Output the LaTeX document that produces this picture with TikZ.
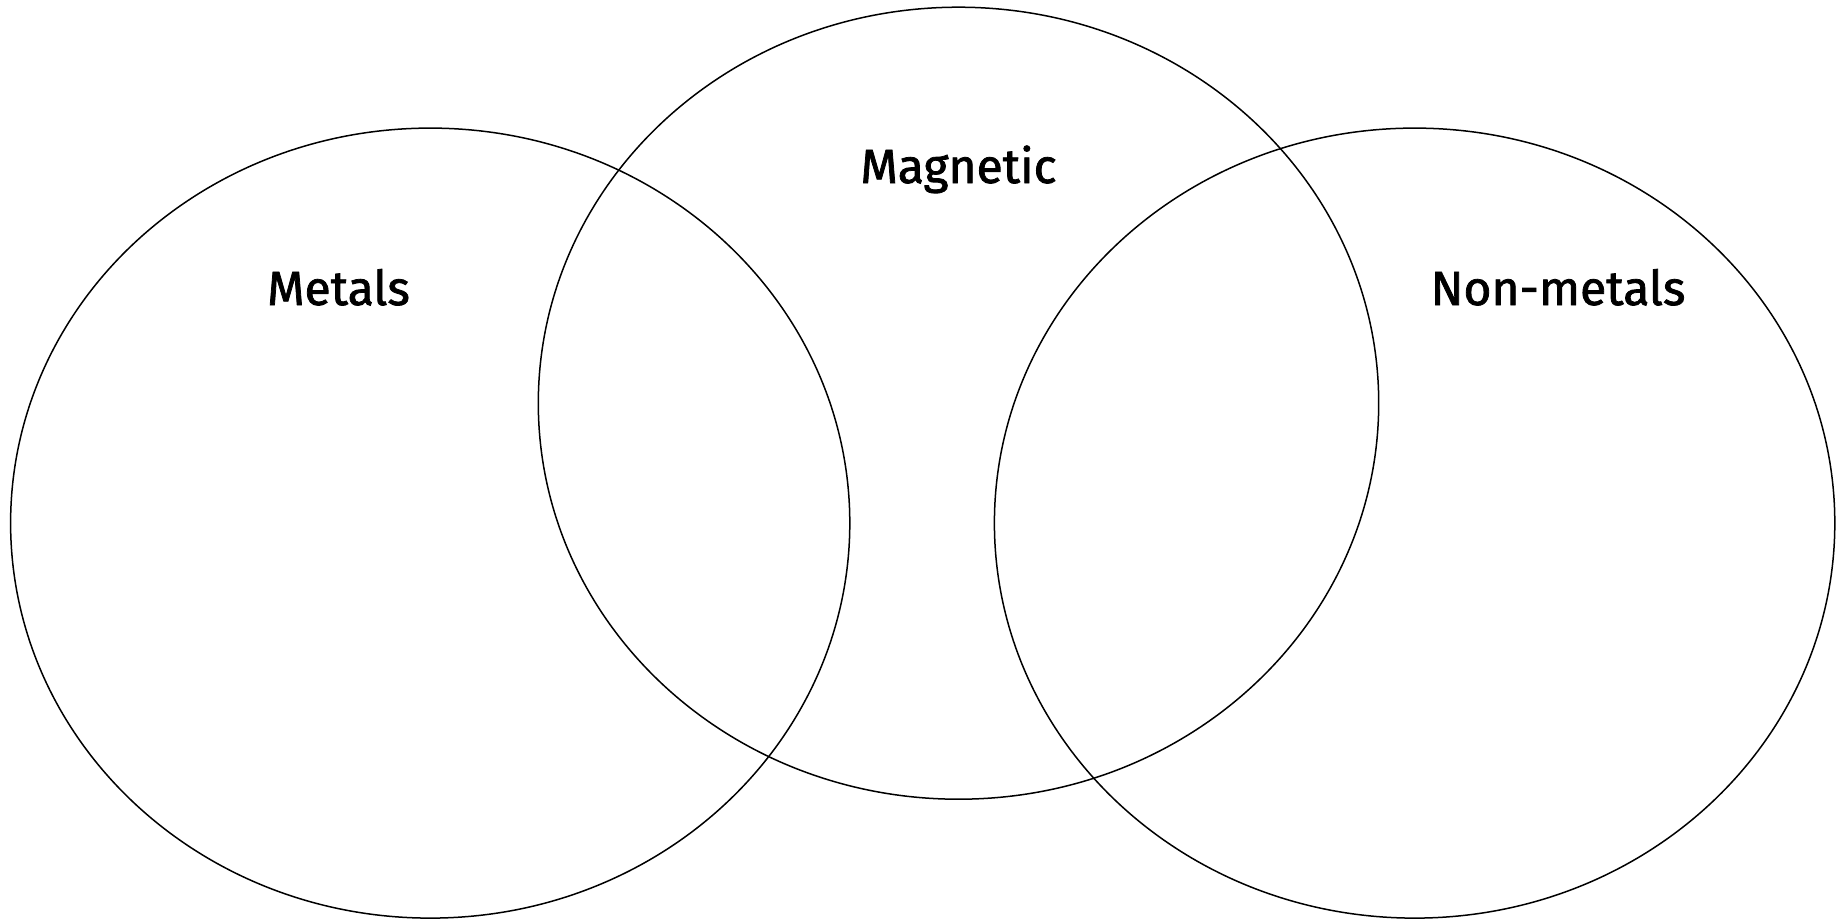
\documentclass[tikz,border=0pt]{standalone}
\usepackage{fontspec}
\setmainfont{Fira Sans}
\newfontfamily\labelfont[FakeBold=1.6]{Fira Sans}
\begin{document}
\begin{tikzpicture}[x=1pt,y=-1pt,
  setcircle/.style={draw=black,line width=1.5pt},
  setlabel/.style={anchor=base,font=\labelfont\fontsize{48}{56}\selectfont,inner sep=0pt}]
\useasboundingbox (0,0) rectangle (1843,923);
\draw[setcircle] (430.2,523.1) ellipse [x radius=419.6, y radius=395];
\draw[setcircle] (958.5,403.2) ellipse [x radius=420.2, y radius=396];
\draw[setcircle] (1414.6,523.1) ellipse [x radius=420.2, y radius=395];
\node[setlabel] (metals) at (338.5,305) {Metals};
\node[setlabel] (magnetic) at (958.5,183) {Magnetic};
\node[setlabel] (nonmetals) at (1558,305) {Non-metals};
\end{tikzpicture}
\end{document}
